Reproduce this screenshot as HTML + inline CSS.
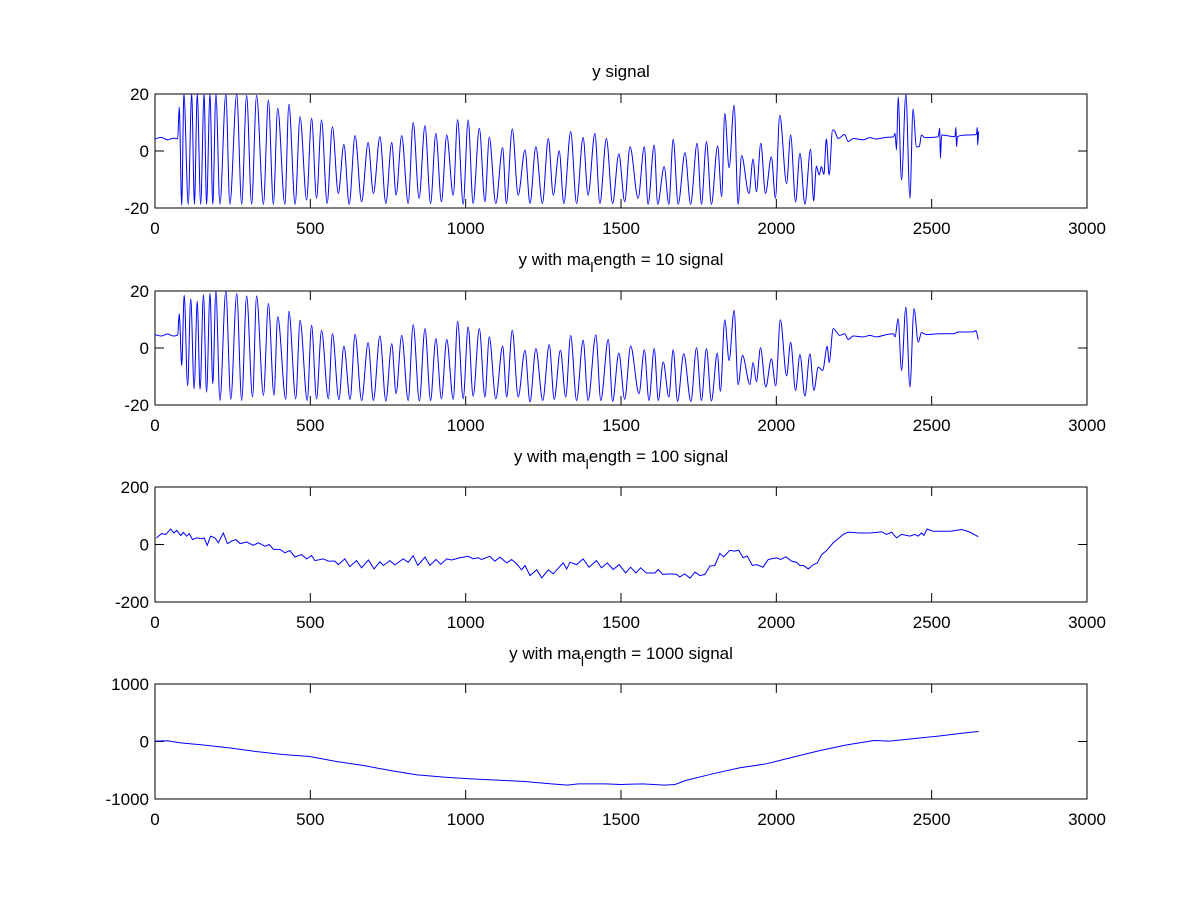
<!DOCTYPE html>
<html><head><meta charset="utf-8"><style>
html,body{margin:0;padding:0;background:#fff;}
svg{display:block;font-family:"Liberation Sans",Arial,sans-serif;}
</style></head><body>
<svg id="fig" width="1201" height="900" viewBox="0 0 1201 900" xmlns="http://www.w3.org/2000/svg">
<rect width="1201" height="900" fill="#fff"/>
</svg>
<script>
// ---- data ----
const xTicks = [0, 500, 1000, 1500, 2000, 2500, 3000];
const titles = ["y signal", "y with ma_length = 10 signal", "y with ma_length = 100 signal", "y with ma_length = 1000 signal"];
const yTicks1 = [-20, 0, 20];
const yTicks2 = [-20, 0, 20];
const yTicks3 = [-200, 0, 200];
const yTicks4 = [-1000, 0, 1000];

const sig1 = [[0,4.2],[20,4.8],[40,3.9],[60,4.5],[73,4.3],[78,15.5],[86,-19],[93,20],[107,-18.7],[118,20],[127,-18.7],[136,20],[147,-18.7],[158,20],[166,-18.7],[177,20],[186,-18.7],[196,20],[209,-18.7],[228,20],[241,-18.7],[263,20],[279,-18.7],[295,19.5],[311,-18.7],[327,19.5],[349,-18.7],[365,17.9],[381,-18.7],[395,15],[418,-18.7],[431,16.4],[451,-18.7],[467,12],[488,-17.2],[504,11.5],[520,-16.6],[536,10.9],[554,-18.4],[571,8.5],[590,-14.9],[608,2.3],[625,-18.7],[644,5.4],[665,-17.8],[686,3],[703,-14.9],[724,5],[743,-18.4],[762,3],[776,-15.5],[794,5.4],[815,-18.4],[831,10],[850,-16.6],[869,8.9],[887,-18.4],[904,6.2],[922,-17.8],[939,5.6],[960,-15.5],[974,11],[992,-18.7],[1008,10.9],[1024,-18.4],[1044,8],[1062,-17.8],[1076,4.8],[1097,-18.4],[1119,1.2],[1131,-18.4],[1150,7.7],[1169,-15.5],[1191,0.4],[1207,-18.4],[1226,1.5],[1247,-18.4],[1266,4.4],[1282,-15.5],[1301,0.1],[1316,-18.4],[1338,6.8],[1357,-18.4],[1378,4.8],[1394,-15.5],[1416,6.2],[1432,-18.4],[1453,4.4],[1473,-18.4],[1493,-1],[1512,-17.8],[1529,1.5],[1555,-16.6],[1575,1.5],[1587,-18.7],[1607,2.1],[1618,-18.7],[1639,-5.5],[1654,-18.7],[1668,4.1],[1684,-18.7],[1706,-0.6],[1724,-18.7],[1745,2.7],[1759,-18.7],[1775,3.3],[1791,-18.7],[1811,1.8],[1824,-16],[1834,13.2],[1848,-5.9],[1864,16.1],[1877,-18.7],[1888,-1.6],[1912,-14.9],[1925,-2.8],[1936,-14.3],[1950,2.7],[1965,-14.9],[1984,-2],[1997,-16.6],[2011,12.6],[2033,-11.4],[2046,5.6],[2062,-17.8],[2076,-0.8],[2092,-18.7],[2110,0.6],[2120,-17.5],[2129,-5.3],[2138,-8.4],[2145,-5.5],[2153,-8.2],[2161,4.2],[2170,-8.4],[2181,7.4],[2188,7],[2199,4.4],[2220,5.8],[2231,3.3],[2248,4.4],[2279,3.9],[2301,4.7],[2322,4.2],[2355,4.8],[2377,5],[2382,6.2],[2387,0.4],[2392,19],[2403,-10.2],[2417,20],[2430,-16.6],[2440,14.7],[2451,1.5],[2460,1.5],[2467,5.6],[2478,4.7],[2521,5],[2526,8],[2528,-2.6],[2532,5.6],[2575,5],[2578,8.3],[2580,1.5],[2583,5],[2612,5.6],[2644,5.8],[2647,8.3],[2648,2.1],[2651,6.8]];

const sig2 = [[0,4.7],[20,4.2],[40,4.9],[60,4.2],[73,4.6],[78,12],[86,-6.1],[94,18.5],[105,-13.3],[115,17.3],[126,-14.3],[136,16.4],[145,-14.5],[156,18.7],[166,-15.5],[177,19.1],[186,-12.5],[196,20],[209,-18.4],[228,20],[244,-18],[263,19.1],[279,-18.4],[295,18.3],[314,-17.2],[327,18.3],[349,-16.6],[365,15.6],[383,-16.6],[395,11],[421,-18],[431,12.9],[453,-17.8],[467,9.7],[490,-18.4],[504,8],[520,-17.8],[536,6.2],[558,-17.8],[571,5],[592,-18.1],[608,0.6],[628,-18],[644,4.8],[665,-18.4],[686,1.9],[703,-18.4],[724,4.2],[743,-18.6],[762,1.5],[776,-16],[794,4.4],[815,-18.4],[831,8.2],[851,-18.6],[869,6.8],[887,-18.4],[904,3.3],[922,-17.8],[939,3],[960,-18],[974,9.4],[992,-17.8],[1008,7.4],[1024,-16.9],[1044,6.8],[1062,-17.2],[1076,3.9],[1097,-17.8],[1119,0.7],[1132,-17.2],[1150,6.2],[1169,-17.2],[1191,-0.8],[1207,-18.9],[1226,-0.2],[1248,-18.4],[1269,1.2],[1285,-18],[1305,-0.8],[1322,-17.2],[1338,4.4],[1357,-18.4],[1378,2.7],[1394,-18.4],[1419,4.6],[1435,-18.4],[1459,3],[1473,-18.7],[1493,-1.8],[1512,-18],[1531,0.7],[1558,-16],[1575,-0.6],[1590,-18.4],[1607,-0.2],[1620,-18.4],[1636,-4.9],[1654,-17.2],[1668,-0.6],[1682,-18.7],[1702,-2],[1725,-18.7],[1743,0.1],[1759,-18.4],[1775,-0.2],[1791,-18.6],[1810,-1.8],[1820,-15.2],[1834,9.9],[1848,-4.4],[1864,13.2],[1877,-12.9],[1891,-2.6],[1915,-12.8],[1925,-5.1],[1936,-11.9],[1949,0.1],[1966,-13.7],[1984,-3.8],[1998,-13.3],[2013,9.9],[2033,-9.8],[2046,2],[2062,-14.9],[2076,-2.3],[2092,-16.9],[2108,-2],[2121,-14.9],[2135,-6.7],[2149,-7.9],[2164,0.6],[2170,-5.1],[2183,6.8],[2194,5.6],[2204,4.4],[2220,5],[2231,3],[2248,4.2],[2279,3.9],[2301,4.4],[2322,3.9],[2355,4.7],[2377,5],[2382,3.9],[2392,10.3],[2403,-7.9],[2417,14.4],[2430,-13.7],[2443,13.8],[2457,2],[2467,5.4],[2483,4.7],[2526,5],[2570,5],[2585,5.6],[2612,5.6],[2639,5.8],[2642,6.2],[2650,3]];

const sig3 = [[5,23],[21,38],[35,35],[50,54],[61,40],[70,49],[83,31],[91,42],[102,29],[110,38],[121,17],[134,23],[150,20],[158,23],[168,-3],[179,29],[193,23],[204,6],[209,17],[220,40],[233,3],[247,12],[261,17],[274,3],[295,9],[316,-3],[333,6],[354,-6],[368,0],[381,-17],[402,-17],[418,-29],[434,-21],[450,-43],[472,-35],[488,-50],[504,-38],[515,-56],[542,-50],[558,-58],[579,-58],[590,-70],[611,-50],[627,-77],[649,-56],[665,-81],[687,-54],[705,-85],[724,-60],[735,-73],[756,-56],[772,-71],[799,-50],[815,-62],[831,-39],[846,-73],[869,-44],[885,-73],[904,-52],[920,-69],[939,-50],[955,-54],[982,-46],[1008,-41],[1024,-50],[1040,-46],[1051,-52],[1078,-41],[1094,-58],[1110,-44],[1132,-64],[1148,-52],[1164,-67],[1180,-88],[1191,-73],[1207,-108],[1229,-88],[1245,-116],[1266,-88],[1282,-102],[1301,-79],[1314,-64],[1325,-85],[1336,-62],[1357,-70],[1378,-50],[1397,-79],[1421,-56],[1437,-81],[1456,-64],[1475,-87],[1494,-70],[1515,-99],[1531,-79],[1548,-99],[1563,-81],[1582,-99],[1609,-99],[1620,-87],[1634,-104],[1657,-102],[1679,-104],[1689,-113],[1705,-102],[1722,-117],[1738,-96],[1754,-108],[1770,-104],[1786,-75],[1802,-73],[1818,-31],[1831,-43],[1850,-20],[1866,-23],[1879,-20],[1893,-46],[1906,-40],[1923,-73],[1936,-70],[1957,-79],[1974,-52],[2001,-46],[2014,-52],[2031,-43],[2049,-58],[2065,-62],[2076,-73],[2087,-73],[2103,-85],[2119,-70],[2132,-64],[2146,-35],[2162,-21],[2183,6],[2199,20],[2215,35],[2231,43],[2269,40],[2301,40],[2339,44],[2355,35],[2371,43],[2387,23],[2403,35],[2430,29],[2446,35],[2457,29],[2467,40],[2475,32],[2485,54],[2505,46],[2559,46],[2597,52],[2623,43],[2650,27]];

const sig4 = [[0,6],[40,12],[83,-23],[152,-58],[239,-110],[325,-174],[411,-226],[498,-261],[584,-348],[671,-417],[757,-504],[844,-580],[930,-620],[1017,-649],[1103,-672],[1190,-695],[1276,-736],[1328,-759],[1362,-736],[1449,-736],[1500,-748],[1570,-736],[1639,-759],[1674,-748],[1708,-678],[1795,-562],[1881,-458],[1968,-388],[2054,-272],[2141,-156],[2227,-58],[2314,17],[2365,6],[2434,46],[2521,93],[2607,151],[2651,174]];

// ---- layout ----
const NS = "http://www.w3.org/2000/svg";
const svg = document.getElementById("fig");
const L = 155, R = 1087;
const panels = [
  {top:94, bot:208, yt:yTicks1, data:sig1, title:0, tY:77, smooth:true},
  {top:291, bot:405, yt:yTicks2, data:sig2, title:1, tY:265, smooth:true},
  {top:487, bot:602, yt:yTicks3, data:sig3, title:2, tY:462, smooth:false},
  {top:684, bot:799, yt:yTicks4, data:sig4, title:3, tY:659, smooth:false}
];
function mk(tag, attrs){ const e=document.createElementNS(NS,tag); for(const k in attrs) e.setAttribute(k,attrs[k]); return e; }

// monotone cubic (Fritsch-Carlson) path through screen points
function monoPath(P){
  const n=P.length; if(n<2) return "";
  const d=[], m=new Array(n);
  for(let i=0;i<n-1;i++){ const dx=P[i+1][0]-P[i][0]; d.push(dx===0?0:(P[i+1][1]-P[i][1])/dx); }
  m[0]=d[0]; m[n-1]=d[n-2];
  for(let i=1;i<n-1;i++){ m[i]=(d[i-1]*d[i]<=0)?0:(d[i-1]+d[i])/2; }
  for(let i=0;i<n-1;i++){
    if(d[i]===0){m[i]=0;m[i+1]=0;continue;}
    const a=m[i]/d[i], b=m[i+1]/d[i], s=a*a+b*b;
    if(s>9){const t=3/Math.sqrt(s); m[i]=t*a*d[i]; m[i+1]=t*b*d[i];}
  }
  let s="M"+P[0][0].toFixed(2)+","+P[0][1].toFixed(2);
  for(let i=0;i<n-1;i++){
    const h=(P[i+1][0]-P[i][0])/3;
    s+="C"+(P[i][0]+h).toFixed(2)+","+(P[i][1]+m[i]*h).toFixed(2)+" "+(P[i+1][0]-h).toFixed(2)+","+(P[i+1][1]-m[i+1]*h).toFixed(2)+" "+P[i+1][0].toFixed(2)+","+P[i+1][1].toFixed(2);
  }
  return s;
}

panels.forEach((p, i) => {
  const g = mk("g", {});
  
  
  svg.appendChild(g);
  const ymin = p.yt[0], ymax = p.yt[p.yt.length-1];
  const xs = v => L + (v - xTicks[0]) / (xTicks[xTicks.length-1] - xTicks[0]) * (R - L);
  const ys = v => p.bot - (v - ymin) / (ymax - ymin) * (p.bot - p.top);

  const box = mk("rect", {x:L, y:p.top, width:R-L, height:p.bot-p.top, fill:"none", stroke:"#000", "stroke-width":1});
  
  
  g.appendChild(box);

  xTicks.forEach(t => {
    const x = xs(t);
    const tk = mk("path", {d:`M${x},${p.bot}v-9M${x},${p.top}v9`, stroke:"#000", "stroke-width":1});
    
    
    g.appendChild(tk);
    const lb = mk("text", {x:x, y:p.bot+26, "text-anchor":"middle", "font-size":17, fill:"#000"});
    lb.textContent = t;
    
    
    g.appendChild(lb);
  });
  p.yt.forEach(t => {
    const y = ys(t);
    const tk = mk("path", {d:`M${L},${y}h9M${R},${y}h-9`, stroke:"#000", "stroke-width":1});
    
    
    g.appendChild(tk);
    const lb = mk("text", {x:L-6, y:y+6, "text-anchor":"end", "font-size":17, fill:"#000"});
    lb.textContent = t;
    
    
    g.appendChild(lb);
  });

  const tt = mk("text", {x:(L+R)/2, y:p.tY, "text-anchor":"middle", "font-size":17, fill:"#000"});
  
  
  const parts = titles[p.title].split("_");
  if (parts.length === 1) { tt.textContent = parts[0]; }
  else {
    const a = mk("tspan", {}); a.textContent = parts[0]; tt.appendChild(a);
    const s = mk("tspan", {dy:7, "font-size":14}); s.textContent = parts[1].charAt(0); tt.appendChild(s);
    const b = mk("tspan", {dy:-7}); b.textContent = parts[1].slice(1); tt.appendChild(b);
  }
  g.appendChild(tt);

  const P = p.data.slice().sort((a,b)=>a[0]-b[0]).map(d => [xs(d[0]), ys(d[1])]);
  let ln;
  if (p.smooth) {
    ln = mk("path", {d:monoPath(P), fill:"none", stroke:"#0000ff", "stroke-width":1});
  } else {
    ln = mk("polyline", {points:P.map(q=>q[0].toFixed(2)+","+q[1].toFixed(2)).join(" "), fill:"none", stroke:"#0000ff", "stroke-width":1});
  }
  
  
  g.appendChild(ln);
});
</script>
</body></html>
